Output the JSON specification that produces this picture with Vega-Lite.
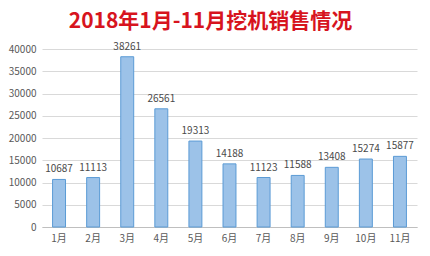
{
  "$schema": "https://vega.github.io/schema/vega-lite/v6.json",
  "width": 375,
  "height": 178,
  "autosize": {"type": "none"},
  "padding": {"left": 42, "top": 49, "right": 13, "bottom": 29},
  "background": "#ffffff",
  "title": {
    "text": "2018年1月-11月挖机销售情况",
    "font": "Noto Sans CJK SC",
    "fontSize": 21,
    "fontWeight": "bold",
    "color": "#d7141e",
    "anchor": "middle",
    "dx": -19,
    "offset": 10
  },
  "data": {
    "values": [
      {"month": "1月", "sales": 10687},
      {"month": "2月", "sales": 11113},
      {"month": "3月", "sales": 38261},
      {"month": "4月", "sales": 26561},
      {"month": "5月", "sales": 19313},
      {"month": "6月", "sales": 14188},
      {"month": "7月", "sales": 11123},
      {"month": "8月", "sales": 11588},
      {"month": "9月", "sales": 13408},
      {"month": "10月", "sales": 15274},
      {"month": "11月", "sales": 15877}
    ]
  },
  "config": {
    "view": {"stroke": null},
    "font": "Noto Sans CJK SC"
  },
  "encoding": {
    "x": {
      "field": "month",
      "type": "ordinal",
      "sort": null,
      "scale": {"paddingInner": 0.62, "paddingOuter": 0.31},
      "axis": {
        "title": null,
        "labelAngle": 0,
        "labelFontSize": 10,
        "labelColor": "#595959",
        "labelPadding": 6,
        "ticks": false,
        "domainColor": "#bfbfbf"
      }
    },
    "y": {
      "field": "sales",
      "type": "quantitative",
      "scale": {"domain": [0, 40000], "nice": false},
      "axis": {
        "title": null,
        "values": [0, 5000, 10000, 15000, 20000, 25000, 30000, 35000, 40000],
        "labelFontSize": 10,
        "labelColor": "#595959",
        "labelPadding": 6,
        "ticks": false,
        "domain": false,
        "gridColor": "#d9d9d9",
        "format": "d"
      }
    }
  },
  "layer": [
    {
      "mark": {"type": "bar", "fill": "#9cc2e8", "stroke": "#5b9bd5", "strokeWidth": 1}
    },
    {
      "mark": {"type": "text", "baseline": "bottom", "dy": -5, "fontSize": 10, "color": "#4a4a4a"},
      "encoding": {"text": {"field": "sales", "type": "quantitative", "format": "d"}}
    }
  ]
}
